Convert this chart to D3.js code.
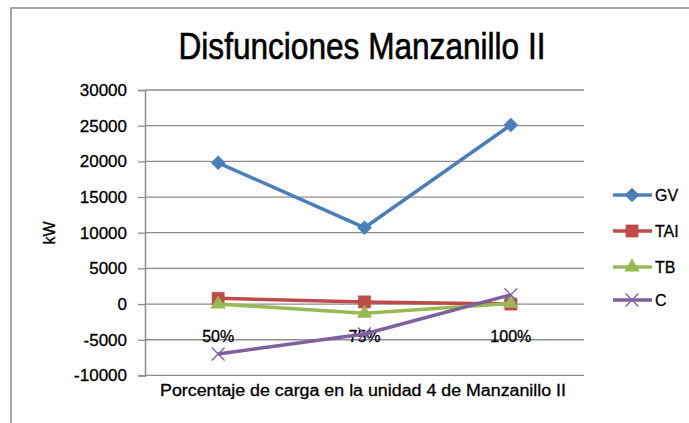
<!DOCTYPE html>
<html lang="es">
<head>
    <meta charset="UTF-8" />
    <title>Disfunciones Manzanillo II</title>
    <style>
        body, html {
            margin: 0;
            padding: 0;
            background-color: white;
        }
        svg text {
            font-family: "Liberation Sans", Arial, sans-serif;
            fill: black;
            stroke: black;
            stroke-width: 0.3px;
        }
    </style>
</head>
<body>
    <svg id="svg" width="689" height="423"></svg>
    <script src="https://cdn.jsdelivr.net/npm/d3@7"></script>
    <script>
        // Data
        const categories = ["50%", "75%", "100%"];
        const gv = [19800, 10700, 25100];
        const tai = [800, 300, 0];
        const tb = [0, -1300, 100];
        const c = [-7000, -4200, 1300];
        const yTicks = [-10000, -5000, 0, 5000, 10000, 15000, 20000, 25000, 30000];

        const diamond = {
            draw(ctx, size) {
                const r = Math.sqrt(size / 2);
                ctx.moveTo(0, -r);
                ctx.lineTo(r, 0);
                ctx.lineTo(0, r);
                ctx.lineTo(-r, 0);
                ctx.closePath();
            }
        };

        const series = [
            { name: "GV", values: gv, color: "#4A7EBB", symbol: diamond, size: 100 },
            { name: "TAI", values: tai, color: "#BE4B48", symbol: d3.symbolSquare, size: 150 },
            { name: "TB", values: tb, color: "#98B954", symbol: d3.symbolTriangle, size: 90 },
            { name: "C", values: c, color: "#7D60A0", symbol: d3.symbolX, size: 110 }
        ];

        const margin = { top: 90, left: 145, right: 105, bottom: 47 };
        const width = 689 - margin.left - margin.right;
        const height = 423 - margin.top - margin.bottom - 0.6;

        const svg = d3.select("#svg");

        // outer frame (only top and left visible)
        svg.append("path")
            .attr("d", "M11,423 L11,8 L689,8")
            .attr("fill", "none")
            .attr("stroke", "#8a8a8a")
            .attr("stroke-width", 1.5);

        svg.append("text")
            .attr("x", 362)
            .attr("y", 59)
            .attr("text-anchor", "middle")
            .attr("textLength", 367)
            .attr("lengthAdjust", "spacingAndGlyphs")
            .style("font-size", "36px")
            .style("stroke-width", "0.6px")
            .text("Disfunciones Manzanillo II");

        const g = svg.append("g")
            .attr("transform", `translate(${margin.left},${margin.top})`);

        const xScale = d3.scaleBand()
            .domain(categories)
            .range([0, width]);

        const yScale = d3.scaleLinear()
            .domain([-10000, 30000])
            .range([height, 0]);

        // gridlines
        g.selectAll(".grid")
            .data(yTicks)
            .enter()
            .append("line")
            .attr("x1", 0)
            .attr("x2", width)
            .attr("y1", (d) => yScale(d))
            .attr("y2", (d) => yScale(d))
            .attr("stroke", "#8c8c8c")
            .attr("stroke-width", 1.3);

        // y axis
        const yAxis = g.append("g")
            .call(d3.axisLeft(yScale).tickValues(yTicks).tickSize(7).tickPadding(11)
                .tickFormat((d) => String(d)));
        yAxis.select(".domain").attr("stroke", "#8c8c8c").attr("stroke-width", 1.5);
        yAxis.selectAll(".tick line").attr("stroke", "#8c8c8c").attr("stroke-width", 1.3);
        yAxis.selectAll("text").style("font-size", "17px").attr("fill", "black");

        // category labels next to zero line
        g.selectAll(".cat")
            .data(categories)
            .enter()
            .append("text")
            .attr("x", (d) => xScale(d) + xScale.bandwidth() / 2)
            .attr("y", yScale(0) + 38)
            .attr("text-anchor", "middle")
            .style("font-size", "16px")
            .text((d) => d);

        // axis titles
        svg.append("text")
            .attr("x", 363)
            .attr("y", 396)
            .attr("text-anchor", "middle")
            .attr("textLength", 406)
            .attr("lengthAdjust", "spacingAndGlyphs")
            .style("font-size", "16px")
            .text("Porcentaje de carga en la unidad  4 de Manzanillo  II");

        svg.append("text")
            .attr("transform", "translate(55,233) rotate(-90)")
            .attr("text-anchor", "middle")
            .style("font-size", "16px")
            .text("kW");

        const line = d3.line()
            .x((d, i) => xScale(categories[i]) + xScale.bandwidth() / 2)
            .y((d) => yScale(d));

        series.forEach((s) => {
            g.append("path")
                .datum(s.values)
                .attr("d", line)
                .attr("fill", "none")
                .attr("stroke", s.color)
                .attr("stroke-width", 3.5)
                .attr("stroke-linejoin", "round");

            g.selectAll(null)
                .data(s.values)
                .enter()
                .append("path")
                .attr("d", d3.symbol().type(s.symbol).size(s.size))
                .attr("transform", (d, i) => `translate(${xScale(categories[i]) + xScale.bandwidth() / 2},${yScale(d)})`)
                .attr("fill", s.color)
                .attr("stroke", s.color)
                .attr("stroke-width", s.name === "C" ? 1.3 : 0.5);
        });

        // legend
        const legendY = [195, 231, 267, 300];
        const legend = svg.append("g");
        series.forEach((s, i) => {
            const row = legend.append("g").attr("transform", `translate(0,${legendY[i]})`);
            row.append("line")
                .attr("x1", 613)
                .attr("x2", 652)
                .attr("stroke", s.color)
                .attr("stroke-width", 3.5);
            row.append("path")
                .attr("d", d3.symbol().type(s.symbol).size(s.size))
                .attr("transform", "translate(632,0)")
                .attr("fill", s.color)
                .attr("stroke", s.color)
                .attr("stroke-width", s.name === "C" ? 1.3 : 0.5);
            row.append("text")
                .attr("x", 655)
                .attr("y", 6)
                .style("font-size", "16px")
                .text(s.name);
        });
    </script>
</body>
</html>
